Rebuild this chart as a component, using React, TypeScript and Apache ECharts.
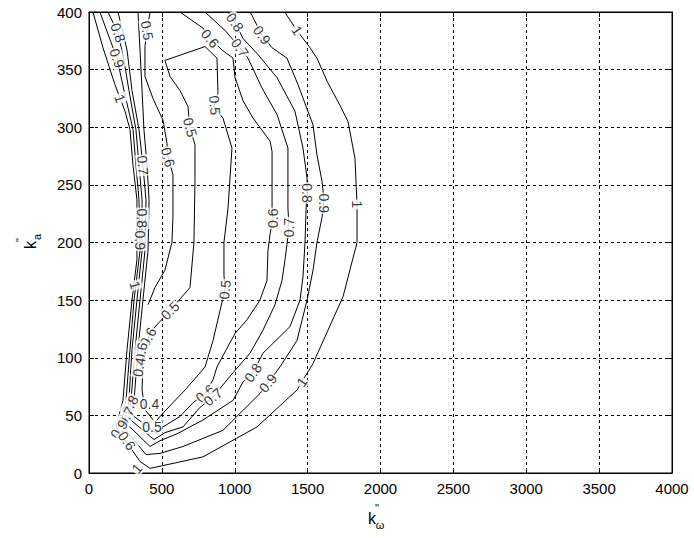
import React, { useEffect, useRef } from 'react';
import * as echarts from 'echarts';

const xTicks = [0, 500, 1000, 1500, 2000, 2500, 3000, 3500, 4000];
const yTicks = [0, 50, 100, 150, 200, 250, 300, 350, 400];

// contour level 1
const level10 = [[27,400],[96,369],[178,337],[247,314],[281,298],[302,267],[329,237],[329,185],[295,150],[261,107],[233,63],[185,40],[350,10],[419,4],[782,14],[1153,40],[1427,72],[1537,95],[1743,153],[1839,200],[1839,233],[1825,273],[1777,305],[1722,319],[1633,340],[1564,360],[1516,369],[1427,384],[1358,397],[1345,400]];
// contour level 0.9
const level09 = [[75,400],[144,376],[192,360],[240,332],[302,298],[322,267],[343,237],[350,202],[350,193],[309,150],[281,107],[254,63],[220,42],[391,16],[487,17],[645,23],[919,37],[1173,69],[1310,92],[1427,115],[1496,150],[1537,176],[1564,200],[1599,222],[1612,237],[1599,253],[1564,276],[1537,302],[1434,337],[1358,360],[1256,369],[1187,380],[1118,397],[1105,400]];
// contour level 0.8
const level08 = [[130,400],[199,382],[240,358],[274,332],[322,298],[343,267],[364,237],[364,193],[329,150],[295,107],[274,63],[247,44],[419,23],[487,28],[604,34],[782,46],[988,63],[1057,79],[1125,87],[1194,104],[1379,127],[1448,150],[1468,170],[1482,200],[1489,228],[1496,243],[1496,256],[1468,282],[1413,314],[1290,343],[1160,363],[1057,377],[1002,391],[954,400]];
// contour level 0.7
const level07 = [[199,400],[261,367],[295,332],[343,298],[370,267],[391,237],[384,193],[350,150],[316,107],[288,63],[268,48],[446,29],[521,35],[645,40],[762,57],[851,66],[988,87],[1105,104],[1194,124],[1276,146],[1324,167],[1345,185],[1358,198],[1372,213],[1365,230],[1365,282],[1290,311],[1187,334],[1091,360],[1036,369],[933,384],[796,400]];
// contour level 0.6
const level06 = [[336,400],[350,367],[364,332],[377,298],[398,267],[412,237],[405,193],[370,150],[336,107],[309,63],[288,51],[460,35],[508,40],[624,49],[714,61],[796,69],[851,81],[878,92],[967,113],[1002,121],[1084,133],[1173,150],[1221,167],[1228,193],[1242,207],[1262,221],[1256,230],[1256,279],[1242,288],[1125,308],[1057,323],[1002,343],[988,360],[913,367],[830,377],[782,386],[624,400]];
// inner branch (0.6 label)
const level06b = [[419,400],[398,384],[384,370],[384,344],[439,325],[508,306],[535,286],[542,274],[576,259],[576,222],[569,200],[521,176],[453,161],[405,146]];
// contour level 0.5 (closed)
const level05 = [[419,122],[556,141],[693,161],[720,200],[727,252],[727,285],[693,299],[679,318],[624,332],[556,344],[521,358],[796,370],[878,360],[885,330],[858,318],[919,308],[981,282],[954,230],[926,200],[926,172],[933,159],[899,141],[851,115],[796,92],[659,72],[508,52],[453,44],[384,55],[364,72],[370,98],[419,122]];

const contourLines = [level10, level09, level08, level07, level06, level06b, level05];

// contour labels: [x, y, text]
const contourLabels = [
  [213,325,'1'],[199,382,'0.8'],[192,360,'0.9'],[398,384,'0.5'],[542,274,'0.6'],[370,267,'0.7'],
  [693,300,'0.5'],[830,377,'0.6'],[1036,369,'0.7'],[1002,391,'0.8'],[1187,380,'0.9'],[1427,384,'1'],
  [864,319,'0.5'],[1262,221,'0.6'],[1372,213,'0.7'],[1496,243,'0.8'],[1612,234,'0.9'],[1839,233,'1'],
  [364,221,'0.8'],[350,202,'0.9'],[316,163,'1'],[933,159,'0.5'],[556,141,'0.5'],[405,118,'0.6'],
  [357,105,'0.6'],[343,92,'0.4'],[796,69,'0.6'],[851,66,'0.7'],[1125,87,'0.8'],[1228,78,'0.9'],
  [1461,79,'1'],[281,59,'0.8'],[254,49,'0.7'],[206,38,'0.9'],[261,28,'0.6'],[415,60,'0.4'],
  [432,40,'0.5'],[329,4,'1']
];
const labelAngles = [
  -70,-70,-70,-80,-75,-85,
  -75,-50,-55,-55,-55,-55,
  -85,90,90,-90,-90,-90,
  -90,-90,-75,85,45,60,
  80,80,40,40,55,50,
  55,60,60,55,-55,0,
  0,50
];

const FONT = 'Liberation Sans, Arial, sans-serif';

export default function App() {
  const ref = useRef<HTMLDivElement>(null);
  useEffect(() => {
    if (!ref.current) return;
    const chart = echarts.init(ref.current, undefined, { renderer: 'svg' });
    const axisCommon = {
      type: 'value' as const,
      axisLine: { show: true, onZero: false, lineStyle: { color: '#000', width: 1 } },
      axisTick: { show: true, inside: true, length: 5, lineStyle: { color: '#000' } },
    };
    const lineSeries = contourLines.map((pts) => ({
      type: 'line',
      data: pts,
      showSymbol: false,
      symbol: 'none',
      smooth: false,
      lineStyle: { color: '#000', width: 1 },
      z: 2,
      silent: true,
    }));
    const labelSeries = {
      type: 'scatter',
      symbolSize: 0,
      z: 5,
      silent: true,
      data: contourLabels.map((l, i) => ({
        value: [l[0], l[1]],
        name: l[2],
        label: { rotate: labelAngles[i] },
      })),
      label: {
        show: true,
        position: 'inside',
        formatter: (p: any) => p.name,
        color: '#000',
        fontSize: 14,
        fontFamily: FONT,
        backgroundColor: '#fff',
        padding: [0, 1],
        align: 'center',
        verticalAlign: 'middle',
      },
    };
    const tickLabel = { color: '#000', fontSize: 15, fontFamily: FONT, formatter: (v: number) => String(v) };
    chart.setOption({
      animation: false,
      backgroundColor: '#fff',
      grid: { left: 89, top: 12, right: 22, bottom: 65, show: true, borderColor: '#000', borderWidth: 1, containLabel: false },
      xAxis: [
        {
          ...axisCommon,
          position: 'bottom',
          min: xTicks[0],
          max: xTicks[xTicks.length - 1],
          interval: xTicks[1] - xTicks[0],
          axisLabel: { ...tickLabel, margin: 8 },
          splitLine: { show: true, lineStyle: { color: '#000', width: 1, type: [3, 3] } },
        },
        {
          ...axisCommon,
          position: 'top',
          min: xTicks[0],
          max: xTicks[xTicks.length - 1],
          interval: xTicks[1] - xTicks[0],
          axisLabel: { show: false },
          splitLine: { show: false },
        },
      ],
      yAxis: [
        {
          ...axisCommon,
          position: 'left',
          min: yTicks[0],
          max: yTicks[yTicks.length - 1],
          interval: yTicks[1] - yTicks[0],
          axisLabel: { ...tickLabel, margin: 7 },
          splitLine: { show: true, lineStyle: { color: '#000', width: 1, type: [3, 3] } },
        },
        {
          ...axisCommon,
          position: 'right',
          min: yTicks[0],
          max: yTicks[yTicks.length - 1],
          interval: yTicks[1] - yTicks[0],
          axisLabel: { show: false },
          splitLine: { show: false },
        },
      ],
      series: [...lineSeries, labelSeries],
      graphic: [
        {
          type: 'group',
          x: 372,
          y: 518,
          children: [
            { type: 'text', x: 0, y: 0, style: { text: 'k', fontSize: 16, fontFamily: FONT, fill: '#000', align: 'center', verticalAlign: 'middle' } },
            { type: 'text', x: 5, y: -10, style: { text: '"', fontSize: 11, fontFamily: FONT, fill: '#000', align: 'center', verticalAlign: 'middle' } },
            { type: 'text', x: 8, y: 7, style: { text: 'ω', fontSize: 11, fontFamily: FONT, fill: '#000', align: 'center', verticalAlign: 'middle' } },
          ],
        },
        {
          type: 'group',
          x: 30,
          y: 245,
          rotation: Math.PI / 2,
          children: [
            { type: 'text', x: 0, y: 0, style: { text: 'k', fontSize: 16, fontFamily: FONT, fill: '#000', align: 'center', verticalAlign: 'middle' } },
            { type: 'text', x: 5, y: -10, style: { text: '"', fontSize: 11, fontFamily: FONT, fill: '#000', align: 'center', verticalAlign: 'middle' } },
            { type: 'text', x: 8, y: 7, style: { text: 'a', fontSize: 11, fontFamily: FONT, fill: '#000', align: 'center', verticalAlign: 'middle' } },
          ],
        },
      ],
    });
    return () => chart.dispose();
  }, []);
  return <div ref={ref} style={{ position: 'absolute', left: 0, top: 0, width: 694, height: 538 }} />;
}
